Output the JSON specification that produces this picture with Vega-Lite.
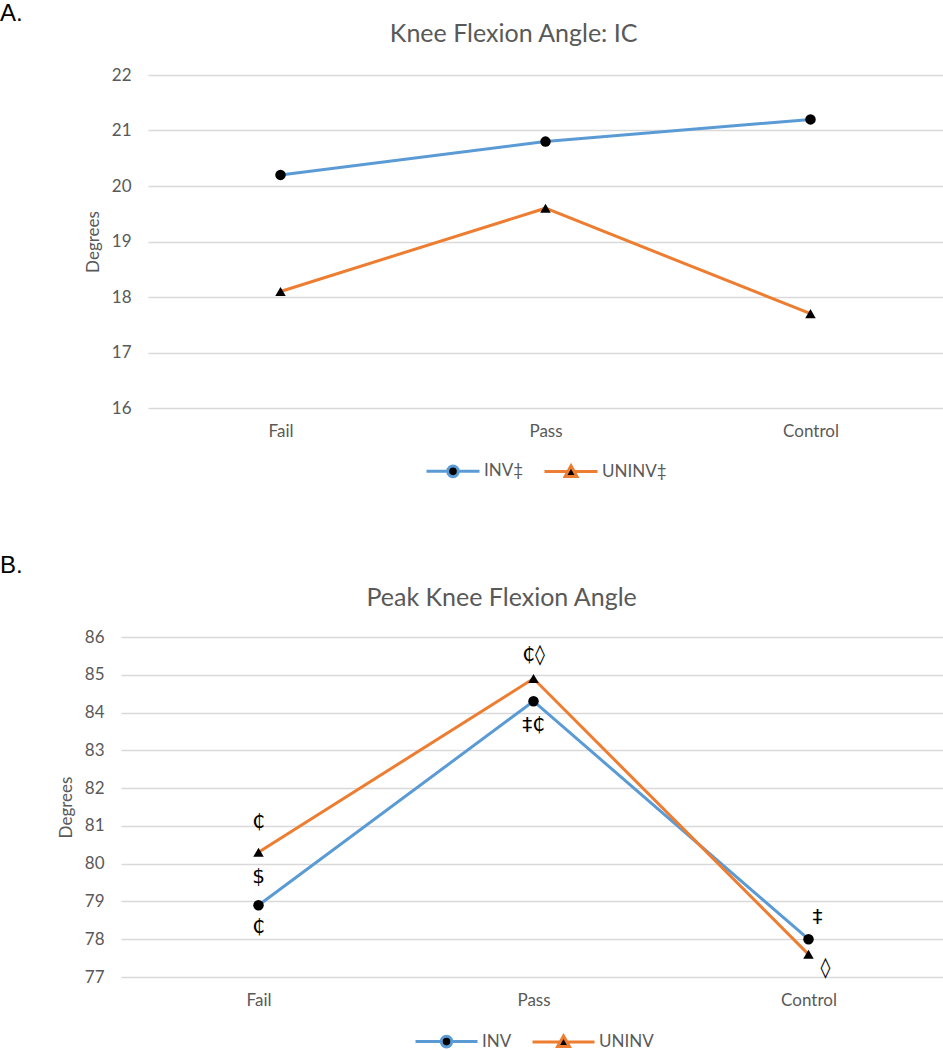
{
  "$schema": "https://vega.github.io/schema/vega-lite/v6.json",
  "padding": {"left": 0, "top": 2, "right": 0, "bottom": 0},
  "background": "white",
  "spacing": 71,
  "datasets": {
    "a": [
      {"group": "Fail", "series": "INV", "deg": 20.2},
      {"group": "Pass", "series": "INV", "deg": 20.8},
      {"group": "Control", "series": "INV", "deg": 21.2},
      {"group": "Fail", "series": "UNINV", "deg": 18.1},
      {"group": "Pass", "series": "UNINV", "deg": 19.6},
      {"group": "Control", "series": "UNINV", "deg": 17.7}
    ],
    "b": [
      {"group": "Fail", "series": "INV", "deg": 78.9},
      {"group": "Pass", "series": "INV", "deg": 84.3},
      {"group": "Control", "series": "INV", "deg": 78.0},
      {"group": "Fail", "series": "UNINV", "deg": 80.3},
      {"group": "Pass", "series": "UNINV", "deg": 84.9},
      {"group": "Control", "series": "UNINV", "deg": 77.6}
    ],
    "bnotes": [
      {"group": "Fail", "deg": 81.1, "label": "₵"},
      {"group": "Fail", "deg": 79.65, "label": "$"},
      {"group": "Fail", "deg": 78.32, "label": "₵"},
      {"group": "Pass", "deg": 85.52, "label": "₵◊"},
      {"group": "Pass", "deg": 83.67, "label": "‡₵"},
      {"group": "Control", "deg": 78.59, "label": "‡"},
      {"group": "Control", "deg": 77.24, "label": "◊"}
    ]
  },
  "vconcat": [
    {
      "title": {"text": "A.", "anchor": "start", "frame": "bounds", "font": "Liberation Sans", "fontSize": 24, "fontWeight": "normal", "color": "black", "offset": -4},
      "spacing": 0,
      "resolve": {"scale": {"color": "independent"}, "legend": {"color": "independent"}},
      "hconcat": [
        {"width": 84, "height": 1, "data": {"values": [{}]}, "mark": {"type": "point", "opacity": 0}},
        {
          "title": {"text": "Knee Flexion Angle: IC", "offset": 19, "frame": "bounds"},
          "width": 795,
          "height": 333,
          "data": {"name": "a"},
          "encoding": {
            "x": {"field": "group", "type": "nominal", "sort": ["Fail", "Pass", "Control"], "scale": {"type": "point", "padding": 0.5}, "axis": {"title": null, "labelAngle": 0, "labelPadding": 15, "grid": false}},
            "y": {"field": "deg", "type": "quantitative", "scale": {"domain": [16, 22], "nice": false, "zero": false}, "axis": {"values": [16, 17, 18, 19, 20, 21, 22], "title": "Degrees", "labelPadding": 17, "titlePadding": 9}}
          },
          "layer": [
            {
              "transform": [{"window": [{"op": "row_number", "as": "i"}]}],
              "mark": {"type": "line", "strokeWidth": 3},
              "encoding": {
                "order": {"field": "i", "type": "quantitative"},
                "color": {
                  "field": "series", "type": "nominal",
                  "scale": {"domain": ["INV", "UNINV"], "range": ["#5B9BD5", "#ED7D31"]},
                  "legend": {
                    "title": null, "orient": "bottom", "direction": "horizontal", "offset": 4,
                    "symbolSize": 2809, "symbolStrokeWidth": 3, "columnPadding": 14, "labelOffset": 3,
                    "symbolType": "M-1,0L1,0",
                    "labelExpr": "datum.label + '‡'",
                    "encode": {"symbols": {"update": {
                      "fill": {"value": "black"},
                      "stroke": {"signal": "datum.value === 'INV' ? '#5B9BD5' : '#ED7D31'"},
                      "shape": {"signal": "datum.value === 'INV' ? 'M-1,0L-0.2,0M0.2,0L1,0M-0.2,0A0.2,0.2,0,1,1,0.2,0A0.2,0.2,0,1,1,-0.2,0Z' : 'M-1,0L-0.12,0M0.12,0L1,0M0,-0.22L0.22,0.18L-0.22,0.18Z'"}
                    }}}
                  }
                }
              }
            },
            {
              "transform": [{"filter": "datum.series === 'INV'"}],
              "mark": {"type": "point", "filled": true, "color": "black", "opacity": 1, "size": 110, "shape": "circle"}
            },
            {
              "transform": [{"filter": "datum.series === 'UNINV'"}],
              "mark": {"type": "point", "filled": true, "color": "black", "opacity": 1, "size": 110, "shape": "triangle-up"}
            }
          ]
        }
      ]
    },
    {
      "title": {"text": "B.", "anchor": "start", "frame": "bounds", "font": "Liberation Sans", "fontSize": 24, "fontWeight": "normal", "color": "black", "offset": 8},
      "spacing": 0,
      "resolve": {"scale": {"color": "independent"}, "legend": {"color": "independent"}},
      "hconcat": [
        {"width": 57, "height": 1, "data": {"values": [{}]}, "mark": {"type": "point", "opacity": 0}},
        {
          "title": {"text": "Peak Knee Flexion Angle", "offset": 17, "frame": "bounds"},
          "width": 825,
          "height": 340,
          "encoding": {
            "x": {"field": "group", "type": "nominal", "sort": ["Fail", "Pass", "Control"], "scale": {"type": "point", "padding": 0.5}, "axis": {"title": null, "labelAngle": 0, "labelPadding": 15, "grid": false}},
            "y": {"field": "deg", "type": "quantitative", "scale": {"domain": [77, 86], "nice": false, "zero": false}, "axis": {"values": [77, 78, 79, 80, 81, 82, 83, 84, 85, 86], "title": "Degrees", "labelPadding": 17, "titlePadding": 9}}
          },
          "layer": [
            {
              "data": {"name": "b"},
              "transform": [{"window": [{"op": "row_number", "as": "i"}]}],
              "mark": {"type": "line", "strokeWidth": 3},
              "encoding": {
                "order": {"field": "i", "type": "quantitative"},
                "color": {
                  "field": "series", "type": "nominal",
                  "scale": {"domain": ["INV", "UNINV"], "range": ["#5B9BD5", "#ED7D31"]},
                  "legend": {
                    "title": null, "orient": "bottom", "direction": "horizontal", "offset": 1,
                    "symbolSize": 3844, "symbolStrokeWidth": 3, "columnPadding": 14, "labelOffset": 3,
                    "symbolType": "M-1,0L1,0",
                    "encode": {"symbols": {"update": {
                      "fill": {"value": "black"},
                      "stroke": {"signal": "datum.value === 'INV' ? '#5B9BD5' : '#ED7D31'"},
                      "shape": {"signal": "datum.value === 'INV' ? 'M-1,0L-0.17,0M0.17,0L1,0M-0.17,0A0.17,0.17,0,1,1,0.17,0A0.17,0.17,0,1,1,-0.17,0Z' : 'M-1,0L-0.1,0M0.1,0L1,0M0,-0.19L0.19,0.15L-0.19,0.15Z'"}
                    }}}
                  }
                }
              }
            },
            {
              "data": {"name": "b"},
              "transform": [{"filter": "datum.series === 'INV'"}],
              "mark": {"type": "point", "filled": true, "color": "black", "opacity": 1, "size": 110, "shape": "circle"}
            },
            {
              "data": {"name": "b"},
              "transform": [{"filter": "datum.series === 'UNINV'"}],
              "mark": {"type": "point", "filled": true, "color": "black", "opacity": 1, "size": 110, "shape": "triangle-up"}
            },
            {
              "data": {"name": "bnotes"},
              "transform": [{"filter": "datum.group !== 'Control'"}],
              "mark": {"type": "text", "font": "DejaVu Sans", "fontSize": 20, "color": "black", "baseline": "middle", "align": "center"},
              "encoding": {"text": {"field": "label"}}
            },
            {
              "data": {"name": "bnotes"},
              "transform": [{"filter": "datum.group === 'Control' && datum.label === '‡'"}],
              "mark": {"type": "text", "font": "DejaVu Sans", "fontSize": 20, "color": "black", "baseline": "middle", "align": "center", "dx": 9},
              "encoding": {"text": {"field": "label"}}
            },
            {
              "data": {"name": "bnotes"},
              "transform": [{"filter": "datum.group === 'Control' && datum.label === '◊'"}],
              "mark": {"type": "text", "font": "DejaVu Sans", "fontSize": 20, "color": "black", "baseline": "middle", "align": "center", "dx": 17},
              "encoding": {"text": {"field": "label"}}
            }
          ]
        }
      ]
    }
  ],
  "resolve": {
    "scale": {"color": "independent", "shape": "independent", "x": "independent", "y": "independent"},
    "legend": {"color": "independent", "shape": "independent"},
    "axis": {"x": "independent", "y": "independent"}
  },
  "config": {
    "view": {"stroke": null},
    "title": {"font": "Lato", "fontSize": 25, "fontWeight": "normal", "color": "#595959", "anchor": "middle"},
    "axis": {"labelFont": "Lato", "labelFontSize": 17, "labelColor": "#595959", "titleFont": "Lato", "titleFontSize": 17, "titleColor": "#595959", "titleFontWeight": "normal", "gridColor": "#D9D9D9", "gridWidth": 1.5, "domain": false, "ticks": false},
    "legend": {"labelFont": "Lato", "labelFontSize": 17, "labelColor": "#595959", "layout": {"bottom": {"anchor": "middle"}}}
  }
}
